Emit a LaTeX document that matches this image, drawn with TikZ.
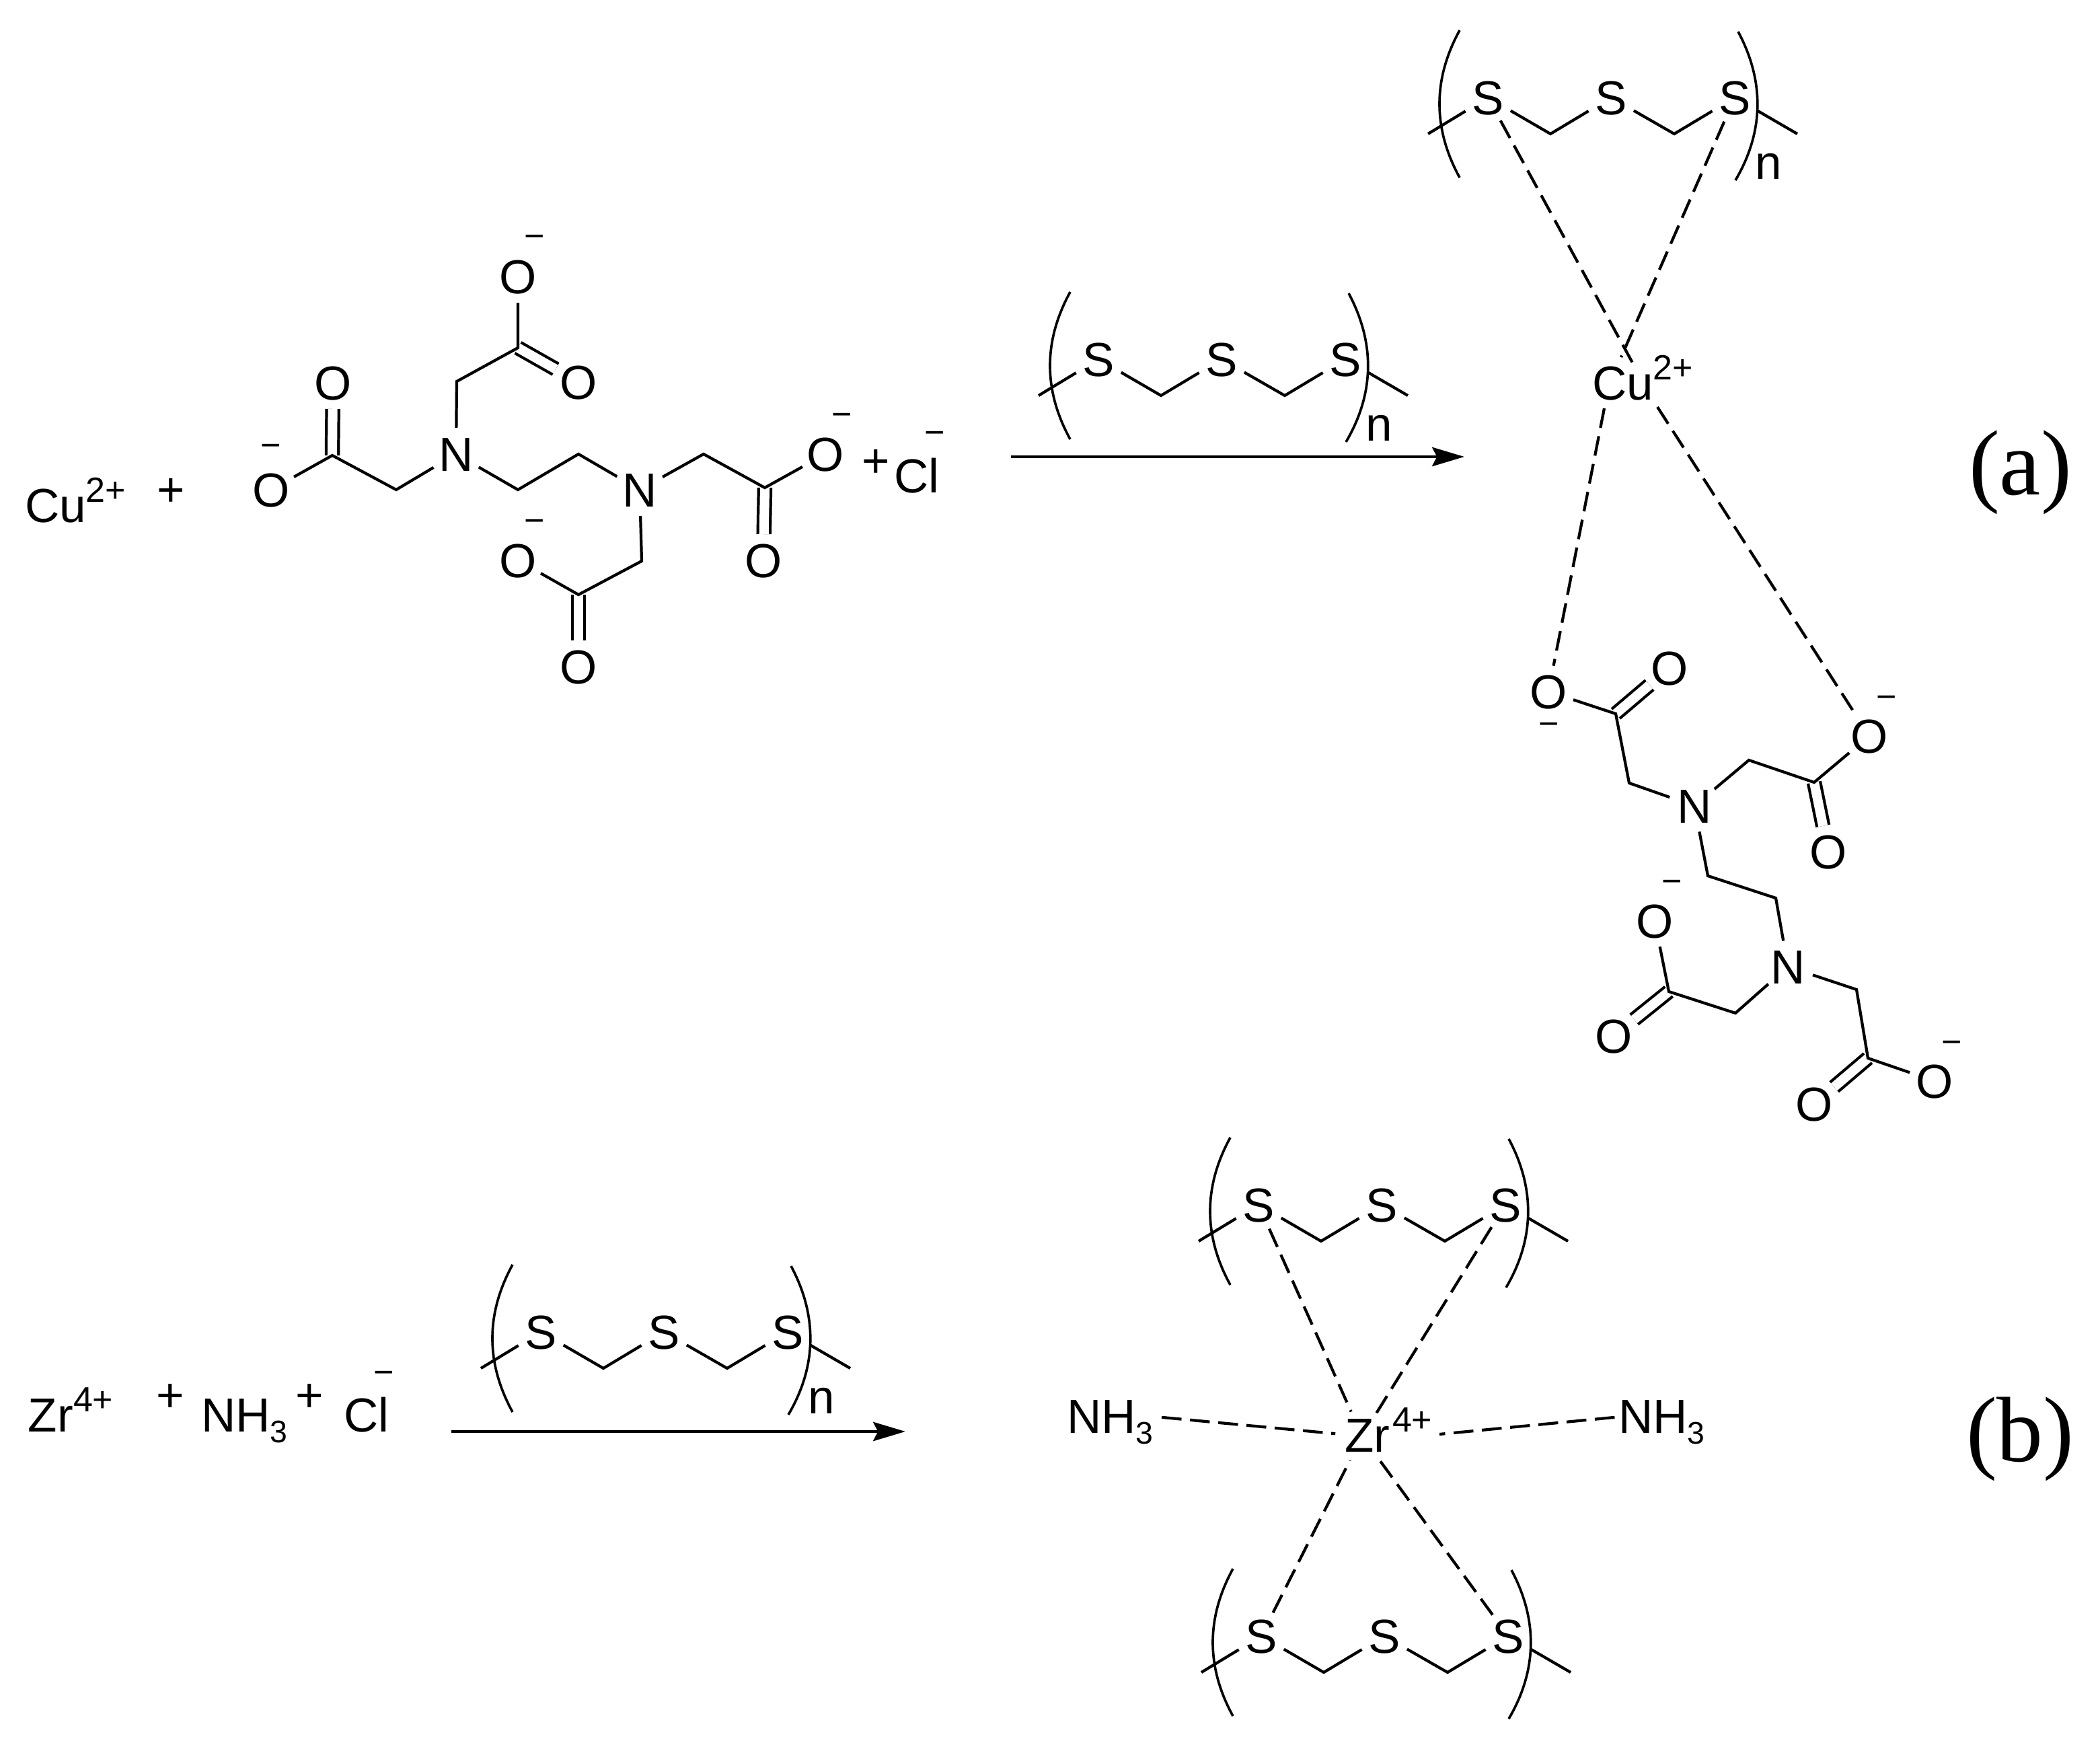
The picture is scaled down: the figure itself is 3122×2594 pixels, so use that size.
\documentclass[tikz,border=0pt]{standalone}
\usepackage{fontspec}
\setmainfont{Liberation Sans}
\newfontfamily\labelserif{Liberation Serif}
\usetikzlibrary{arrows.meta}
\newcommand{\szmain}{\fontsize{50.5}{60}\selectfont}
\newcommand{\szsmall}{\fontsize{37}{40}\selectfont}
\newcommand{\chg}[1]{\raisebox{21pt}{\szsmall #1}}
\newcommand{\subsc}[1]{\raisebox{-11.5pt}{\fontsize{33}{36}\selectfont #1}}
\tikzset{
  every node/.style={inner sep=0pt,outer sep=0pt,font=\szmain},
  atom/.style={circle,minimum size=1.95cm,text height=36pt,text depth=0pt,align=center},
  lbl/.style={anchor=base west},
  minus/.style={font=\szsmall},
  bond/.style={line width=3pt,line join=miter,black},
  dbond/.style={line width=3pt,double,double distance=10pt,black},
  coord/.style={line width=3pt,dash pattern=on 21pt off 9pt,black},
  paren/.style={line width=2.6pt,black},
  rxn/.style={line width=3.4pt,black,-{Stealth[length=34pt,width=20pt,inset=5pt]}}
}
\newcommand{\polymer}[4]{%
  \begin{scope}[shift={(#2,#3)}]
    \node[atom] (#1s1) at (2212,145) {S};
    \node[atom] (#1s2) at (2395,145) {S};
    \node[atom] (#1s3) at (2579,145) {S};
    \coordinate (#1a) at (2123,199);
    \coordinate (#1b) at (2305,199);
    \coordinate (#1c) at (2489,199);
    \coordinate (#1d) at (2672,199);
    \draw[bond] (#1a) -- (#1s1);
    \draw[bond] (#1s1) -- (#1b) -- (#1s2);
    \draw[bond] (#1s2) -- (#1c) -- (#1s3);
    \draw[bond] (#1s3) -- (#1d);
    \draw[paren] (2170,45) .. controls (2130,118) and (2130,191) .. (2170,264);
    \draw[paren] (2584,47) .. controls (2623,120) and (2623,195) .. (2580,268);
    #4
  \end{scope}}
\begin{document}
\begin{tikzpicture}[x=0.025cm,y=-0.025cm]
\useasboundingbox (0,0) rectangle (3122,2594);
\fill[white] (0,0) rectangle (3122,2594);

% ---- reaction (a), left side
\node[lbl] (cuL) at (37,776) {Cu\chg{2+}};
\node (plusA) at (254,732) {+};
\coordinate (C1) at (770,517); \coordinate (C1a) at (679,567);
\coordinate (C2) at (494,677); \coordinate (C2a) at (589,728);
\coordinate (E1) at (770,728); \coordinate (E2) at (860,675);
\coordinate (C3) at (1137,725); \coordinate (C3a) at (1046,675);
\coordinate (C4) at (860,884); \coordinate (C4a) at (954,834);
\node[atom] (N1) at (678,675) {N};
\node[atom] (N2) at (951,728) {N};
\node[atom] (O1) at (770,411) {O};
\node[atom] (O2) at (860,568) {O};
\node[atom] (O3) at (495,569) {O};
\node[atom] (O4) at (403,728) {O};
\node[atom] (O5) at (1227,675) {O};
\node[atom] (O6) at (1135,833) {O};
\node[atom] (O7) at (770,833) {O};
\node[atom] (O8) at (860,991) {O};
\draw[dbond] (C1) -- (O2);
\draw[dbond] (C2) -- (O3);
\draw[dbond] (C3) -- (O6);
\draw[dbond] (C4) -- (O8);
\draw[bond] (O1) -- (C1) -- (C1a) -- (N1);
\draw[bond] (N1) -- (C2a) -- (C2) -- (O4);
\draw[bond] (N1) -- (E1) -- (E2) -- (N2);
\draw[bond] (N2) -- (C3a) -- (C3) -- (O5);
\draw[bond] (N2) -- (C4a) -- (C4) -- (O7);
\node[minus] (m1) at (795,359) {−};
\node[minus] (m2) at (403,670) {−};
\node[minus] (m3) at (1252,624) {−};
\node[minus] (m4) at (795,782) {−};
\node (plusB) at (1302,689) {+};
\node[lbl] (clA) at (1329,732) {Cl};
\node[minus] (m5) at (1390,651) {−};

% ---- arrow (a)
\polymer{pa}{-579}{389}{\node[font=\szmain] (pan) at (2629,247) {n};}
\coordinate (arA1) at (1503,679); \coordinate (arA2) at (2177,679);
\draw[rxn] (arA1) -- (arA2);

% ---- product (a)
\polymer{pb}{0}{0}{\node[font=\szmain] (pbn) at (2629,247) {n};}
\node[lbl] (cuP) at (2367,594) {Cu\chg{2+}};
\coordinate (cuTL) at (2429,543); \coordinate (cuTR) at (2410,531);
\coordinate (cuBL) at (2385,607); \coordinate (cuBR) at (2464,605);
\coordinate (D1) at (2402,1061); \coordinate (D1a) at (2422,1164);
\coordinate (D2) at (2697,1163); \coordinate (D2a) at (2600,1130);
\coordinate (E3) at (2539,1302); \coordinate (E4) at (2640,1335);
\coordinate (D3) at (2481,1474); \coordinate (D3a) at (2580,1506);
\coordinate (D4) at (2777,1573); \coordinate (D4a) at (2760,1471);
\node[atom] (N3) at (2519,1198) {N};
\node[atom] (N4) at (2658,1437) {N};
\node[atom] (P1) at (2302,1028) {O};
\node[atom] (P2) at (2482,993) {O};
\node[atom] (P3) at (2779,1094) {O};
\node[atom] (P4) at (2718,1266) {O};
\node[atom] (P5) at (2460,1369) {O};
\node[atom] (P6) at (2399,1540) {O};
\node[atom] (P7) at (2876,1607) {O};
\node[atom] (P8) at (2697,1641) {O};
\draw[dbond] (D1) -- (P2);
\draw[dbond] (D2) -- (P4);
\draw[dbond] (D3) -- (P6);
\draw[dbond] (D4) -- (P8);
\draw[bond] (P1) -- (D1) -- (D1a) -- (N3);
\draw[bond] (N3) -- (D2a) -- (D2) -- (P3);
\draw[bond] (N3) -- (E3) -- (E4) -- (N4);
\draw[bond] (N4) -- (D3a) -- (D3) -- (P5);
\draw[bond] (N4) -- (D4a) -- (D4) -- (P7);
\node[minus] (m6) at (2303,1084) {−};
\node[minus] (m7) at (2805,1044) {−};
\node[minus] (m8) at (2486,1318) {−};
\node[minus] (m9) at (2902,1557) {−};
\draw[coord] (pbs1) -- (cuTL);
\draw[coord] (pbs3) -- (cuTR);
\draw[coord] (cuBL) -- (P1);
\draw[coord] (cuBR) -- (P3);
\node[lbl,font=\labelserif\fontsize{98}{110}\selectfont] (labA) at (2927,735) {(a)};

% ---- reaction (b)
\node[lbl] (zrL) at (42,2128) {Zr\chg{4+}};
\node (plusC) at (253,2078) {+};
\node[lbl] (nhL) at (299,2128) {NH\subsc{3}};
\node (plusD) at (460,2078) {+};
\node[lbl] (clB) at (511,2128) {Cl};
\node[minus] (m10) at (571,2048) {−};
\polymer{pc}{-1408}{1835}{\node[font=\szmain] (pcn) at (2629,247) {n};}
\coordinate (arB1) at (671,2128); \coordinate (arB2) at (1346,2128);
\draw[rxn] (arB1) -- (arB2);

% ---- product (b)
\polymer{pd}{-341}{1646}{}
\polymer{pe}{-337}{2287}{}
\node[atom,minimum size=2.0cm] (zr) at (2025,2135) {\phantom{Z}};
\node[lbl] (zrP) at (1999,2158) {Zr};
\node[anchor=base west,font=\szsmall] (zrC) at (2070,2128) {4+};
\node[lbl] (nh3l) at (1586,2130) {NH\subsc{3}};
\node[lbl] (nh3r) at (2406,2130) {NH\subsc{3}};
\coordinate (zrE) at (2140,2132);
\draw[coord] ([xshift=9pt,yshift=5pt]nh3l.east) -- (zr);
\draw[coord] ([xshift=-4pt,yshift=5pt]nh3r.west) -- (zrE);
\draw[coord] (pds1) -- (zr);
\draw[coord] (pds3) -- (zr);
\draw[coord] (pes1) -- (zr);
\draw[coord] (pes3) -- (zr);
\node[lbl,font=\labelserif\fontsize{98}{110}\selectfont] (labB) at (2923,2172) {(b)};
\end{tikzpicture}
\end{document}
